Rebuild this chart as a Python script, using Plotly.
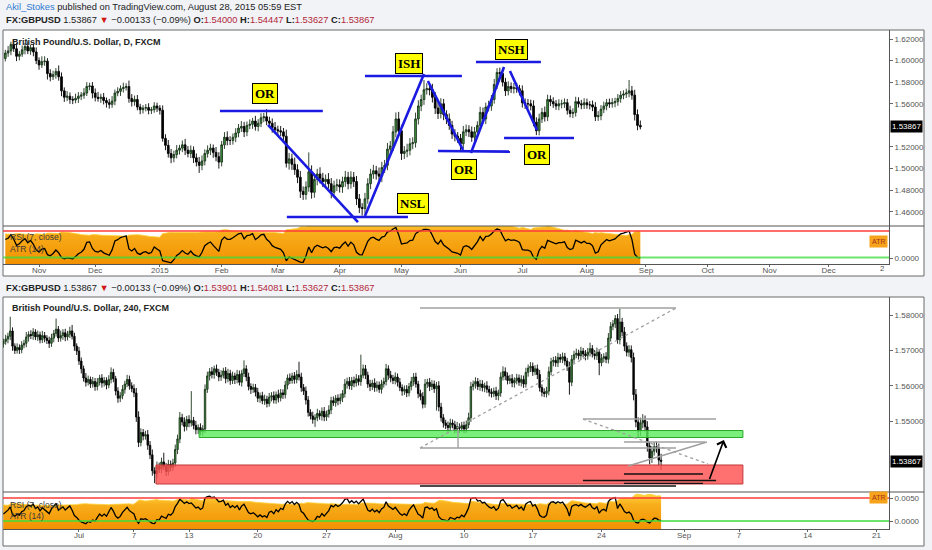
import numpy as np
import pandas as pd
import plotly.graph_objects as go

W, H = 932, 550

# ------------------------------------------------------------------ DATA
# Daily GBPUSD (FXCM) - closes and wick sizes in pips (1e-4)
daily_start = "2014-10-16"
daily_first_open = 16020
daily_close = [
    16070, 16090, 16150, 16110, 16040, 16060, 16100, 16130, 16090, 16120,
    16080, 16000, 15960, 15990, 15995, 15880, 15850, 15870, 15900, 15850,
    15720, 15660, 15670, 15640, 15635, 15650, 15670, 15680, 15700, 15760,
    15765, 15700, 15660, 15650, 15660, 15630, 15610, 15595, 15625, 15700,
    15715, 15740, 15750, 15760, 15650, 15620, 15640, 15570, 15545, 15560,
    15565, 15540, 15545, 15580, 15560, 15540, 15280, 15215, 15140, 15100,
    15130, 15170, 15190, 15220, 15170, 15140, 15170, 15100, 15060, 15030,
    15070, 15140, 15170, 15190, 15150, 15110, 15060, 15220, 15290, 15260,
    15260, 15290, 15330, 15375, 15390, 15340, 15400, 15410, 15440, 15390,
    15420, 15470, 15480, 15440, 15420, 15380, 15360, 15350, 15340, 15300,
    15050, 15090, 15040, 14990, 14920, 14790, 14760, 14830, 14970, 14780,
    14900, 14950, 14910, 14880, 14900, 14860, 14780, 14840, 14850, 14830,
    14880, 14920, 14860, 14920, 14880, 14720, 14640, 14630, 14720, 14860,
    14950, 14980, 14950, 14930, 15010, 15030, 15180, 15210, 15340, 15460,
    15350, 15140, 15160, 15170, 15230, 15240, 15460, 15580, 15640, 15730,
    15740, 15730, 15660, 15560, 15510, 15600, 15500, 15460, 15400, 15320,
    15300, 15280, 15230, 15340, 15360, 15340, 15290, 15340, 15400, 15520,
    15460, 15570, 15580, 15640, 15780, 15890, 15880, 15800, 15720, 15760,
    15740, 15750, 15740, 15720, 15610, 15600, 15600, 15580, 15430, 15350,
    15460, 15520, 15480, 15640, 15620, 15600, 15580, 15600, 15600, 15610,
    15540, 15510, 15520, 15620, 15600, 15590, 15610, 15590, 15590, 15570,
    15480, 15490, 15550, 15580, 15610, 15600, 15610, 15620, 15650, 15680,
    15690, 15700, 15720, 15680, 15500, 15400, 15386.7,
]
daily_upper_wick = [
    30, 45, 25, 38, 52, 28, 40, 33, 48, 26,
    35, 42, 30, 50, 45, 28, 40, 36, 30, 55,
    40, 32, 48, 35, 30, 44, 38, 29, 45, 40,
    30, 36, 42, 50, 33, 40, 28, 35, 46, 32,
    38, 30, 45, 30, 55, 40, 36, 42, 30, 28,
    33, 40, 26, 35, 30, 28, 45, 38, 50, 42,
    36, 48, 30, 40, 55, 38, 44, 35, 40, 48,
    52, 38, 45, 40, 33, 50, 42, 36, 48, 55,
    40, 35, 44, 38, 50, 42, 36, 45, 30, 48,
    38, 42, 35, 70, 40, 45, 52, 38, 44, 36,
    60, 55, 48, 62, 50, 58, 45, 52, 180, 60,
    55, 48, 62, 50, 45, 58, 52, 48, 55, 50,
    45, 58, 50, 55, 48, 52, 45, 40, 55, 50,
    48, 55, 45, 60, 52, 50, 58, 45, 55, 60,
    65, 55, 48, 60, 52, 50, 58, 52, 45, 90,
    50, 45, 55, 48, 60, 52, 45, 40, 50, 42,
    45, 38, 40, 55, 48, 42, 50, 45, 38, 52,
    45, 40, 48, 42, 50, 40, 45, 52, 40, 48,
    38, 42, 45, 35, 50, 40, 45, 38, 52, 45,
    48, 42, 55, 45, 38, 40, 35, 42, 38, 40,
    35, 42, 38, 45, 40, 36, 42, 38, 35, 40,
    45, 42, 38, 40, 35, 38, 42, 36, 40, 38,
    35, 40, 100, 45, 50, 48, 45,
]
daily_lower_wick = [
    28, 35, 40, 30, 45, 38, 25, 42, 30, 36,
    40, 32, 45, 28, 38, 55, 42, 30, 38, 36,
    50, 42, 35, 40, 38, 30, 42, 36, 33, 28,
    35, 50, 38, 30, 42, 36, 45, 40, 32, 38,
    30, 42, 36, 28, 40, 45, 38, 30, 42, 35,
    30, 38, 35, 28, 36, 40, 30, 45, 38, 50,
    42, 35, 40, 38, 45, 36, 42, 48, 40, 70,
    45, 40, 38, 45, 50, 42, 60, 40, 38, 45,
    42, 38, 45, 40, 36, 48, 40, 35, 42, 38,
    45, 36, 40, 38, 42, 48, 40, 45, 38, 42,
    40, 60, 52, 48, 55, 62, 50, 48, 45, 58,
    50, 55, 48, 52, 60, 45, 55, 50, 48, 52,
    55, 48, 52, 45, 50, 58, 52, 65, 48, 45,
    50, 45, 52, 48, 55, 50, 45, 52, 48, 50,
    48, 60, 52, 55, 48, 50, 45, 52, 48, 50,
    45, 52, 48, 55, 50, 45, 52, 48, 42, 45,
    48, 42, 60, 45, 40, 48, 42, 38, 45, 40,
    42, 48, 40, 45, 38, 42, 45, 40, 48, 42,
    40, 45, 38, 42, 45, 48, 40, 42, 38, 40,
    42, 38, 45, 40, 42, 38, 36, 40, 42, 38,
    40, 36, 42, 38, 35, 40, 38, 36, 42, 38,
    40, 38, 42, 36, 40, 38, 35, 42, 38, 40,
    38, 36, 40, 42, 55, 45, 24,
]
daily_tick_dates = ["2014-11-03", "2014-12-01", "2015-01-01", "2015-02-02", "2015-03-02",
                    "2015-04-01", "2015-05-01", "2015-06-01", "2015-07-01", "2015-08-03",
                    "2015-09-01", "2015-10-01", "2015-11-02", "2015-12-01"]
daily_tick_labels = ["Nov", "Dec", "2015", "Feb", "Mar", "Apr", "May", "Jun", "Jul", "Aug",
                     "Sep", "Oct", "Nov", "Dec"]
daily_edge_label = "2"   # the clipped "2016" label at the right edge
daily_price_ticks = [1.46, 1.48, 1.50, 1.52, 1.56, 1.58, 1.60, 1.62]

# 240-minute GBPUSD (6 bars per weekday, series starts with the 4th bar of 2015-06-23)
h4_day0 = "2015-06-23"
h4_first_bar = 3
h4_first_open = 15718
h4_close = [
    15725, 15732, 15740,
    15755, 15712, 15700, 15708, 15702, 15715,
    15720, 15738, 15745, 15742, 15752, 15738,
    15744, 15730, 15742, 15735, 15728, 15720,
    15735, 15748, 15760, 15735, 15742, 15750,
    15738, 15746, 15755, 15740, 15712, 15698,
    15670, 15648, 15622, 15610, 15618, 15605,
    15612, 15598, 15610, 15622, 15608, 15615,
    15602, 15618, 15638, 15620, 15585, 15565,
    15572, 15590, 15605, 15618, 15600, 15592,
    15580, 15512, 15440, 15468, 15458, 15462,
    15432, 15405, 15360, 15352, 15372, 15365,
    15385, 15372, 15358, 15378, 15370, 15382,
    15420, 15450, 15510, 15498, 15485, 15505,
    15495, 15502, 15488, 15476, 15482, 15470,
    15478, 15590, 15628, 15640, 15632, 15648,
    15638, 15625, 15630, 15642, 15620, 15635,
    15615, 15628, 15618, 15632, 15610, 15635,
    15648, 15625, 15598, 15590, 15595, 15582,
    15565, 15572, 15558, 15562, 15550, 15568,
    15572, 15560, 15575, 15566, 15580, 15575,
    15602, 15622, 15615, 15628, 15618, 15632,
    15625, 15595, 15585, 15560, 15525, 15515,
    15505, 15510, 15522, 15515, 15528, 15512,
    15520, 15532, 15558, 15552, 15565, 15558,
    15566, 15578, 15605, 15612, 15600, 15615,
    15608, 15620, 15612, 15630, 15648, 15630,
    15605, 15598, 15608, 15595, 15602, 15590,
    15605, 15612, 15648, 15630, 15622, 15615,
    15625, 15610, 15595, 15585, 15590, 15580,
    15598, 15612, 15625, 15605, 15578, 15570,
    15548, 15605, 15610, 15598, 15605, 15592,
    15600, 15540, 15510, 15495, 15488, 15482,
    15495, 15490, 15478, 15485, 15480, 15488,
    15478, 15490, 15510, 15598, 15605, 15612,
    15598, 15605, 15595, 15600, 15590, 15582,
    15578, 15585, 15572, 15580, 15625, 15640,
    15628, 15615, 15620, 15608, 15615, 15622,
    15610, 15618, 15605, 15638, 15650, 15655,
    15640, 15648, 15632, 15595, 15582, 15578,
    15585, 15640, 15668, 15672, 15665, 15680,
    15675, 15682, 15670, 15655, 15610, 15675,
    15688, 15692, 15685, 15698, 15690, 15685,
    15695, 15705, 15690, 15685, 15695, 15665,
    15678, 15682, 15675, 15735, 15768, 15775,
    15790, 15730, 15780, 15752, 15712, 15695,
    15702, 15680, 15575, 15498, 15472, 15495,
    15502, 15484, 15430, 15396, 15415, 15428,
    15425, 15390, 15386.7,
]
h4_upper_wick = [
    8, 12, 10,
    40, 10, 8, 12, 9, 11,
    10, 14, 9, 12, 11, 8,
    12, 9, 13, 10, 8, 11,
    12, 10, 30, 9, 14, 10,
    11, 9, 12, 17, 10, 8,
    12, 10, 9, 14, 11, 8,
    13, 10, 12, 9, 11, 10,
    9, 12, 14, 10, 8, 11,
    10, 12, 9, 13, 11, 10,
    12, 14, 16, 12, 10, 11,
    13, 12, 15, 10, 14, 11,
    12, 26, 10, 13, 11, 12,
    14, 12, 16, 11, 13, 10,
    12, 83, 10, 13, 9, 12,
    11, 14, 12, 10, 13, 9,
    12, 10, 14, 9, 11, 13,
    10, 12, 9, 13, 11, 10,
    24, 10, 12, 9, 11, 10,
    12, 9, 11, 13, 10, 12,
    10, 12, 9, 14, 11, 10,
    12, 10, 13, 9, 11, 12,
    36, 12, 10, 13, 11, 9,
    12, 10, 13, 9, 11, 12,
    10, 13, 11, 12, 9, 11,
    12, 10, 14, 11, 13, 10,
    11, 13, 10, 58, 12, 11,
    10, 12, 9, 13, 11, 10,
    12, 11, 14, 10, 12, 9,
    13, 10, 12, 9, 11, 12,
    10, 13, 11, 12, 9, 11,
    12, 14, 10, 12, 11, 10,
    11, 13, 12, 10, 9, 11,
    12, 10, 11, 13, 9, 10,
    11, 12, 14, 13, 10, 12,
    10, 12, 11, 9, 13, 10,
    11, 10, 12, 9, 13, 15,
    12, 10, 11, 13, 9, 12,
    10, 12, 11, 13, 10, 12,
    11, 10, 12, 13, 9, 11,
    12, 14, 11, 10, 12, 13,
    10, 12, 11, 9, 13, 12,
    11, 13, 10, 12, 9, 11,
    12, 17, 10, 11, 13, 9,
    12, 10, 13, 14, 12, 11,
    10, 13, 38, 12, 14, 11,
    13, 12, 14, 16, 13, 15,
    18, 14, 16, 12, 15, 13,
    14, 12, 18,
]
h4_lower_wick = [
    10, 9, 12,
    11, 13, 10, 9, 12, 10,
    9, 11, 13, 10, 12, 9,
    11, 10, 9, 12, 10, 13,
    10, 12, 9, 11, 10, 12,
    12, 10, 11, 9, 13, 11,
    11, 13, 10, 12, 9, 11,
    10, 12, 11, 9, 13, 10,
    12, 9, 11, 10, 12, 13,
    11, 10, 12, 9, 11, 10,
    12, 14, 13, 11, 12, 10,
    13, 12, 14, 27, 12, 11,
    12, 10, 13, 11, 12, 10,
    11, 13, 12, 10, 14, 11,
    12, 10, 11, 13, 12, 10,
    11, 12, 10, 13, 11, 12,
    10, 12, 11, 9, 13, 10,
    12, 10, 13, 11, 9, 12,
    10, 12, 11, 13, 10, 12,
    11, 13, 10, 12, 11, 9,
    12, 10, 11, 13, 10, 12,
    11, 12, 10, 9, 12, 11,
    10, 12, 11, 13, 12, 10,
    12, 21, 10, 11, 13, 12,
    11, 10, 12, 9, 11, 13,
    10, 12, 11, 13, 10, 12,
    12, 10, 11, 12, 9, 11,
    11, 13, 10, 12, 11, 10,
    12, 10, 11, 13, 12, 10,
    11, 12, 10, 13, 11, 12,
    10, 11, 12, 10, 13, 11,
    12, 10, 11, 13, 10, 12,
    62, 12, 11, 13, 10, 12,
    11, 10, 12, 11, 13, 10,
    12, 11, 10, 12, 11, 13,
    10, 12, 11, 13, 10, 12,
    11, 10, 12, 13, 11, 10,
    12, 11, 10, 12, 13, 11,
    10, 12, 11, 10, 12, 11,
    12, 10, 13, 11, 12, 10,
    11, 12, 10, 13, 11, 12,
    10, 11, 12, 13, 35, 11,
    12, 10, 11, 12, 10, 13,
    11, 12, 10, 11, 12, 35,
    10, 12, 11, 12, 10, 11,
    12, 11, 13, 12, 14, 12,
    13, 14, 16, 15, 18, 14,
    15, 13, 16, 18, 14, 12,
    14, 16, 24,
]
h4_tick_dates = ["2015-07-01", "2015-07-07", "2015-07-13", "2015-07-20", "2015-07-27",
                 "2015-08-03", "2015-08-10", "2015-08-17", "2015-08-24", "2015-09-01",
                 "2015-09-07", "2015-09-14", "2015-09-21"]
h4_tick_labels = ["Jul", "7", "13", "20", "27", "Aug", "10", "17", "24", "Sep", "7", "14", "21"]
h4_price_ticks = [1.55, 1.56, 1.57, 1.58]

# Header quotes
header_author = "Akil_Stokes"
header_rest = "published on TradingView.com, August 28, 2015 05:59 EST"
quote_daily = ["1.53867", "−0.00133 (−0.09%)", "1.54000", "1.54447", "1.53627", "1.53867"]
quote_h4 = ["1.53867", "−0.00133 (−0.09%)", "1.53901", "1.54081", "1.53627", "1.53867"]
last_price = 1.53867

# Analyst drawings on the daily chart: (bar, price) pairs
daily_trendlines = [
    (76.4, 1.5533, 113.0, 1.5533), (93.5, 1.5404, 125.5, 1.4505),
    (100.2, 1.4552, 143.3, 1.4552), (128.0, 1.4561, 149.0, 1.5876),
    (128.0, 1.5857, 162.5, 1.5857), (150.4, 1.5811, 162.9, 1.5172),
    (154.0, 1.5163, 179.6, 1.5157), (165.7, 1.5144, 177.5, 1.5941),
    (167.5, 1.5987, 190.6, 1.5987), (179.6, 1.5904, 189.2, 1.5357),
    (177.5, 1.5283, 202.4, 1.5283),
]
daily_labels = [("OR", 92.5, 1.5695), ("ISH", 143.7, 1.5969), ("NSL", 145.1, 1.4677),
                ("OR", 163.2, 1.4987), ("NSH", 180.0, 1.6107), ("OR", 189.2, 1.5130)]

# Analyst drawings on the 240 chart: (bar, price) pairs
h4_zone_demand = (88.4, 1.54539, 325.7, 1.54737)
h4_zone_supply = (69.6, 1.53226, 325.7, 1.53763)
h4_gray_lines = [(184.8, 1.58198, 296.5, 1.58198), (184.8, 1.54243, 296.5, 1.54243),
                 (255.9, 1.55062, 314.0, 1.55062), (273.8, 1.54412, 309.2, 1.54412),
                 (275.6, 1.53734, 310.0, 1.54412), (201.4, 1.54751, 201.4, 1.54243)]
h4_dashed_lines = [(184.8, 1.54243, 296.5, 1.58198), (255.9, 1.55062, 310.5, 1.53791)]
h4_black_lines = [(273.8, 1.53508, 308.3, 1.53508), (255.9, 1.53325, 314.0, 1.53325),
                  (273.8, 1.53245, 308.3, 1.53245), (184.8, 1.53169, 296.5, 1.53169)]
h4_arrow = (310.9, 1.53325, 317.4, 1.54469)


# ------------------------------------------------------------------ helpers
def build(close, first_open, uw, lw):
    c = np.asarray(close, float) / 1e4
    o = np.concatenate([[first_open / 1e4], c[:-1]])
    hi = np.maximum(o, c) + np.asarray(uw, float) / 1e4
    lo = np.minimum(o, c) - np.asarray(lw, float) / 1e4
    return o, hi, lo, c


def rma(x, n):
    out = np.empty(len(x))
    out[0] = x[0]
    for i in range(1, len(x)):
        out[i] = out[i - 1] + (x[i] - out[i - 1]) / n
    return out


def rsi(c, n=7):
    d = np.diff(c, prepend=c[0])
    g = np.clip(d, 0, None)
    l = np.clip(-d, 0, None)
    g[0] = g[1:n + 1].mean()
    l[0] = l[1:n + 1].mean()
    ag, al = rma(g, n), rma(l, n)
    return 100 - 100 / (1 + ag / al)


def atr(h, l, c, n=14):
    pc = np.concatenate([[c[0]], c[:-1]])
    tr = np.maximum(h - l, np.maximum(np.abs(h - pc), np.abs(l - pc)))
    tr[0] = tr[:n].mean()
    return rma(tr, n)


def PX(x):
    return x / W


def PY(y):
    return 1 - y / H


# daily series
od, hd, ld, cd = build(daily_close, daily_first_open, daily_upper_wick, daily_lower_wick)
xd = np.arange(len(cd))
all_days = pd.bdate_range(daily_start, "2016-01-29")
day_pos = {d.strftime("%Y-%m-%d"): i for i, d in enumerate(all_days)}
daily_tickvals = [day_pos[d] for d in daily_tick_dates]
rsi_d = rsi(cd)
atr_d = atr(hd, ld, cd)

# 240 series
o4, h4, l4, c4 = build(h4_close, h4_first_open, h4_upper_wick, h4_lower_wick)
x4 = np.arange(h4_first_bar, h4_first_bar + len(c4))
h4_days = pd.bdate_range(h4_day0, "2015-10-30")
h4_pos = {d.strftime("%Y-%m-%d"): 6 * i for i, d in enumerate(h4_days)}
h4_tickvals = [h4_pos[d] for d in h4_tick_dates]
rsi_4 = rsi(c4)
atr_4 = atr(h4, l4, c4)

# ------------------------------------------------------------------ style
PAGE = "#f1f3f7"
UP_FILL = "#3c9c3c"
UP_LINE = "#1c331c"
AX = dict(family="Liberation Sans, Arial, sans-serif", size=8, color="#555555")
XD = [PX(3), PX(889)]
RANGE_D = [-0.82, 314.5]
RANGE_4 = [2.84, 389.45]
ATR_GRAD = dict(type="vertical", colorscale=[[0, "#f29100"], [0.7, "#f8ae1c"], [1, "#ffd43a"]])

fig = go.Figure()

# ---- daily chart
fig.add_trace(go.Candlestick(
    x=xd, open=od, high=hd, low=ld, close=cd, xaxis="x", yaxis="y",
    increasing=dict(fillcolor=UP_FILL, line=dict(color=UP_LINE, width=0.9)),
    decreasing=dict(fillcolor="#000000", line=dict(color="#000000", width=0.9)),
    whiskerwidth=0, hoverinfo="skip", showlegend=False))
ATR_RANGE_D = [-0.00258, 0.01526]
fig.add_trace(go.Scatter(x=xd, y=np.full(len(xd), ATR_RANGE_D[0]), xaxis="x2", yaxis="y2",
                         mode="lines", line=dict(width=0), hoverinfo="skip", showlegend=False))
fig.add_trace(go.Scatter(x=xd, y=atr_d, xaxis="x2", yaxis="y2", mode="lines",
                         line=dict(width=0.8, color="#ffcf33"), fill="tonexty",
                         fillgradient=ATR_GRAD, hoverinfo="skip", showlegend=False))
fig.add_trace(go.Scatter(x=xd, y=rsi_d, xaxis="x2", yaxis="y3", mode="lines",
                         line=dict(width=1.3, color="#000000"), hoverinfo="skip", showlegend=False))

# ---- 240 chart
fig.add_trace(go.Candlestick(
    x=x4, open=o4, high=h4, low=l4, close=c4, xaxis="x3", yaxis="y4",
    increasing=dict(fillcolor=UP_FILL, line=dict(color=UP_LINE, width=0.9)),
    decreasing=dict(fillcolor="#000000", line=dict(color="#000000", width=0.9)),
    whiskerwidth=0, hoverinfo="skip", showlegend=False))
ATR_RANGE_4 = [-0.001739, 0.006304]
fig.add_trace(go.Scatter(x=x4, y=np.full(len(x4), ATR_RANGE_4[0]), xaxis="x4", yaxis="y5",
                         mode="lines", line=dict(width=0), hoverinfo="skip", showlegend=False))
fig.add_trace(go.Scatter(x=x4, y=atr_4, xaxis="x4", yaxis="y5", mode="lines",
                         line=dict(width=0.8, color="#ffcf33"), fill="tonexty",
                         fillgradient=ATR_GRAD, hoverinfo="skip", showlegend=False))
fig.add_trace(go.Scatter(x=x4, y=rsi_4, xaxis="x4", yaxis="y6", mode="lines",
                         line=dict(width=1.3, color="#000000"), hoverinfo="skip", showlegend=False))

shapes = []
# frames (below)
for (x0, y0, x1, y1) in [(3, 30, 924, 276), (3, 297, 924, 546)]:
    shapes.append(dict(type="rect", xref="paper", yref="paper", x0=PX(x0), x1=PX(x1),
                       y0=PY(y1), y1=PY(y0), fillcolor="#ffffff",
                       line=dict(color="#6b6b6b", width=1), layer="below"))
# pane separators
for y in (226, 492):
    shapes.append(dict(type="line", xref="paper", yref="paper", x0=PX(3), x1=PX(924),
                       y0=PY(y), y1=PY(y), line=dict(color="#555555", width=1), layer="above"))
# RSI bands
for (yr, xr) in (("y3", "x2"), ("y6", "x4")):
    shapes.append(dict(type="line", xref=xr + " domain", yref=yr, x0=0, x1=1, y0=80, y1=80,
                       line=dict(color="#ff3b3b", width=1.6), layer="above"))
    shapes.append(dict(type="line", xref=xr + " domain", yref=yr, x0=0, x1=1, y0=20, y1=20,
                       line=dict(color="rgba(60,220,60,0.75)", width=2.2), layer="above"))

# daily drawings
for (a, b, c, d) in daily_trendlines:
    shapes.append(dict(type="line", xref="x", yref="y", x0=a, y0=b, x1=c, y1=d,
                       line=dict(color="#1a1ae0", width=2.6), layer="above"))

# 240 zones and lines
z = h4_zone_supply
shapes.append(dict(type="rect", xref="x3", yref="y4", x0=z[0], y0=z[1], x1=z[2], y1=z[3],
                   fillcolor="rgba(255,80,80,0.82)", line=dict(color="#c23a3a", width=1),
                   layer="above"))
z = h4_zone_demand
shapes.append(dict(type="rect", xref="x3", yref="y4", x0=z[0], y0=z[1], x1=z[2], y1=z[3],
                   fillcolor="rgba(90,235,90,0.8)", line=dict(color="#2aa82a", width=1),
                   layer="above"))
for (a, b, c, d) in h4_gray_lines:
    shapes.append(dict(type="line", xref="x3", yref="y4", x0=a, y0=b, x1=c, y1=d,
                       line=dict(color="#a0a0a0", width=1.4), layer="above"))
for (a, b, c, d) in h4_dashed_lines:
    shapes.append(dict(type="line", xref="x3", yref="y4", x0=a, y0=b, x1=c, y1=d,
                       line=dict(color="#a0a0a0", width=1.3, dash="dot"), layer="above"))
for (a, b, c, d) in h4_black_lines:
    shapes.append(dict(type="line", xref="x3", yref="y4", x0=a, y0=b, x1=c, y1=d,
                       line=dict(color="#111111", width=1.4), layer="above"))

ann = []
RED = "#b3283a"


def quote_line(q):
    return ("<b>FX:GBPUSD</b> " + q[0] + " <span style='color:#d01616'>▼</span> " + q[1] +
            " <b>O:</b><span style='color:%s'>%s</span>" % (RED, q[2]) +
            " <b>H:</b><span style='color:%s'>%s</span>" % (RED, q[3]) +
            " <b>L:</b><span style='color:%s'>%s</span>" % (RED, q[4]) +
            " <b>C:</b><span style='color:%s'>%s</span>" % (RED, q[5]))


HF = dict(family="Liberation Sans, Arial, sans-serif", size=9.3, color="#222222")
ann.append(dict(xref="paper", yref="paper", x=PX(4), y=PY(7), xanchor="left", yanchor="middle",
                showarrow=False, font=HF,
                text="<span style='color:#2f7bd0'>" + header_author + "</span> " + header_rest))
ann.append(dict(xref="paper", yref="paper", x=PX(4), y=PY(20), xanchor="left", yanchor="middle",
                showarrow=False, font=HF, text=quote_line(quote_daily)))
ann.append(dict(xref="paper", yref="paper", x=PX(4), y=PY(288), xanchor="left", yanchor="middle",
                showarrow=False, font=HF, text=quote_line(quote_h4)))
TF = dict(family="Liberation Sans, Arial, sans-serif", size=9, color="#222222")
ann.append(dict(xref="paper", yref="paper", x=PX(10), y=PY(42), xanchor="left", yanchor="middle",
                showarrow=False, font=TF, text="<b>British Pound/U.S. Dollar, D, FXCM</b>"))
ann.append(dict(xref="paper", yref="paper", x=PX(10), y=PY(308), xanchor="left", yanchor="middle",
                showarrow=False, font=TF, text="<b>British Pound/U.S. Dollar, 240, FXCM</b>"))
LF = dict(family="Liberation Sans, Arial, sans-serif", size=8.5, color="#3a3a3a")
for (yy, t) in ((237, "RSI (7, close)"), (249, "ATR (14)"), (505, "RSI (7, close)"), (516, "ATR (14)")):
    ann.append(dict(xref="paper", yref="paper", x=PX(8), y=PY(yy), xanchor="left",
                    yanchor="middle", showarrow=False, font=LF, text=t))
# clipped year label at the right edge of the daily time axis
ann.append(dict(xref="paper", yref="paper", x=PX(887), y=PY(269), xanchor="right",
                yanchor="middle", showarrow=False, font=AX, text=daily_edge_label))
# last price boxes
for yr in ("y", "y4"):
    ann.append(dict(xref="paper", yref=yr, x=PX(890), y=last_price, xanchor="left",
                    yanchor="middle", showarrow=False, text="1.53867", bgcolor="#000000",
                    borderpad=1, font=dict(family="Liberation Sans, Arial", size=8, color="#ffffff")))
# ATR tags
for yy in (241, 498):
    ann.append(dict(xref="paper", yref="paper", x=PX(888), y=PY(yy), xanchor="right",
                    yanchor="middle", showarrow=False, text="ATR", bgcolor="#f6a21a",
                    borderpad=2, font=dict(family="Liberation Sans, Arial", size=7, color="#a3331f")))
# daily labels
for (t, xx, yy) in daily_labels:
    ann.append(dict(xref="x", yref="y", x=xx, y=yy, text="<b>" + t + "</b>", showarrow=False,
                    bgcolor="#ffff00", bordercolor="#000000", borderwidth=1, borderpad=2,
                    font=dict(family="Liberation Serif, DejaVu Serif, serif", size=13, color="#000000")))
# arrow
a = h4_arrow
ann.append(dict(xref="x3", yref="y4", axref="x3", ayref="y4", x=a[2], y=a[3], ax=a[0], ay=a[1],
                text="", showarrow=True, arrowhead=4, arrowsize=1.2, arrowwidth=1.6,
                arrowcolor="#000000"))

common_y = dict(side="right", ticks="outside", ticklen=3, tickcolor="#666666", showline=True,
                linecolor="#555555", linewidth=1, showgrid=False, zeroline=False, tickfont=AX,
                fixedrange=True)
common_x = dict(showgrid=False, zeroline=False, fixedrange=True)

fig.update_layout(
    width=W, height=H, margin=dict(l=0, r=0, t=0, b=0),
    paper_bgcolor=PAGE, plot_bgcolor="rgba(0,0,0,0)", showlegend=False,
    boxgap=0.12,
    shapes=shapes, annotations=ann,
    xaxis=dict(domain=XD, range=RANGE_D, anchor="y", showticklabels=False, ticks="",
               rangeslider=dict(visible=False), **common_x),
    yaxis=dict(domain=[PY(226), PY(30)], range=[1.44684, 1.62833], anchor="x",
               tickvals=daily_price_ticks, tickformat=".5f", **common_y),
    xaxis2=dict(domain=XD, range=RANGE_D, anchor="y2", tickvals=daily_tickvals,
                ticktext=daily_tick_labels, ticks="outside", ticklen=2, tickcolor="#666666",
                showline=True, linecolor="#555555", tickfont=AX, ticklabelstandoff=-4, **common_x),
    yaxis2=dict(domain=[PY(264), PY(226)], range=ATR_RANGE_D, anchor="x2", tickvals=[0],
                tickformat=".4f", **common_y),
    yaxis3=dict(overlaying="y2", anchor="x2", range=[5.28, 91.32], visible=False, fixedrange=True),
    xaxis3=dict(domain=XD, range=RANGE_4, anchor="y4", showticklabels=False, ticks="",
                rangeslider=dict(visible=False), **common_x),
    yaxis4=dict(domain=[PY(492), PY(297)], range=[1.53, 1.58509], anchor="x3",
                tickvals=h4_price_ticks, tickformat=".5f", **common_y),
    xaxis4=dict(domain=XD, range=RANGE_4, anchor="y5", tickvals=h4_tickvals,
                ticktext=h4_tick_labels, ticks="outside", ticklen=2, tickcolor="#666666",
                showline=True, linecolor="#555555", tickfont=AX, ticklabelstandoff=-4, **common_x),
    yaxis5=dict(domain=[PY(529), PY(492)], range=ATR_RANGE_4, anchor="x4",
                tickvals=[0, 0.005], tickformat=".4f", **common_y),
    yaxis6=dict(overlaying="y5", anchor="x4", range=[-0.87, 95.65], visible=False, fixedrange=True),
)

fig.write_html("out.html", config={"displayModeBar": False, "staticPlot": True},
               post_script="document.body.style.margin='0px';document.body.style.overflow='hidden';")
